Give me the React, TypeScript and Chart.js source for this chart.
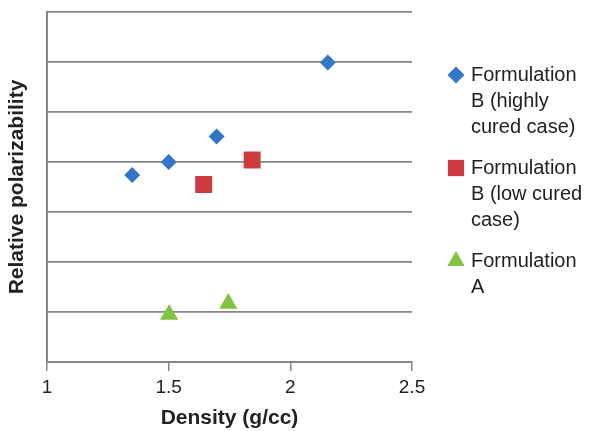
import React, { useEffect, useRef } from 'react';
import { Chart, registerables } from 'chart.js';
import { drawPoint } from 'chart.js/helpers';

Chart.register(...registerables);

// ---- data ----
const xTickValues = [1, 1.5, 2, 2.5];
const highlyCuredX = [1.35, 1.5, 1.697, 2.154];
const highlyCuredY = [3.74, 4.0, 4.51, 5.99];
const lowCuredX = [1.644, 1.843];
const lowCuredY = [3.55, 4.04];
const formAX = [1.502, 1.745];
const formAY = [0.95, 1.17];
const legendLabels = [
  ['Formulation', 'B (highly', 'cured case)'],
  ['Formulation', 'B (low cured', 'case)'],
  ['Formulation', 'A'],
];
const xTitle = 'Density (g/cc)';
const yTitle = 'Relative polarizability';

const FONT = "'Liberation Sans', Arial, Helvetica, sans-serif";
const BLUE = '#3476c6';
const RED = '#cf3a3f';
const GREEN = '#82c341';
const GRID = '#868686';

const toPoints = (xs: number[], ys: number[]) => xs.map((x, i) => ({ x, y: ys[i] }));

const wrappedLegend = {
  id: 'wrappedLegend',
  afterDraw(chart: any) {
    const ctx = chart.ctx;
    ctx.save();
    ctx.font = `20px ${FONT}`;
    ctx.textBaseline = 'middle';
    ctx.textAlign = 'left';
    let y = 75;
    const lineH = 26;
    chart.data.datasets.forEach((ds: any, i: number) => {
      const lines = legendLabels[i];
      ctx.fillStyle = ds.backgroundColor;
      ctx.strokeStyle = ds.backgroundColor;
      ctx.lineWidth = 0;
      drawPoint(ctx, { pointStyle: ds.pointStyle, radius: ds.legendRadius, rotation: 0, borderWidth: 0 }, 456, y);
      ctx.fillStyle = '#222';
      lines.forEach((t: string, j: number) => {
        ctx.fillText(t, 471, y + j * lineH);
      });
      y += lines.length * lineH + 15;
    });
    ctx.restore();
  },
};

export default function App() {
  const ref = useRef<HTMLCanvasElement | null>(null);
  useEffect(() => {
    if (!ref.current) return;
    const chart = new Chart(ref.current, {
      type: 'scatter',
      data: {
        datasets: [
          {
            label: legendLabels[0].join(' '),
            data: toPoints(highlyCuredX, highlyCuredY),
            pointStyle: 'rectRot',
            pointRadius: 8,
            backgroundColor: BLUE,
            borderColor: BLUE,
            borderWidth: 0,
            legendRadius: 8.5,
          } as any,
          {
            label: legendLabels[1].join(' '),
            data: toPoints(lowCuredX, lowCuredY),
            pointStyle: 'rect',
            pointRadius: 12,
            backgroundColor: RED,
            borderColor: RED,
            borderWidth: 0,
            legendRadius: 11.5,
          } as any,
          {
            label: legendLabels[2].join(' '),
            data: toPoints(formAX, formAY),
            pointStyle: 'triangle',
            pointRadius: 10.5,
            backgroundColor: GREEN,
            borderColor: GREEN,
            borderWidth: 0,
            legendRadius: 10,
          } as any,
        ],
      },
      options: {
        animation: false,
        responsive: true,
        maintainAspectRatio: false,
        layout: { padding: { top: 11, right: 178, bottom: 0, left: 0 } },
        plugins: {
          legend: { display: false },
          tooltip: { enabled: false },
        },
        scales: {
          x: {
            type: 'linear',
            min: 1,
            max: 2.5,
            afterFit: (s: any) => { s.height = 69; },
            afterBuildTicks: (s: any) => { s.ticks = xTickValues.map((v) => ({ value: v })); },
            ticks: {
              padding: 5,
              color: '#222',
              font: { family: FONT, size: 19 },
              callback: (v: any) => String(v),
            },
            grid: {
              drawOnChartArea: false,
              drawTicks: true,
              tickLength: 9,
              color: GRID,
              lineWidth: 1.5,
            },
            border: { display: true, color: GRID, width: 2 },
            title: {
              display: true,
              text: xTitle,
              color: '#222',
              font: { family: FONT, size: 21, weight: 'bold' },
              padding: { top: 0, bottom: 0 },
            },
          },
          y: {
            type: 'linear',
            min: 0,
            max: 7,
            afterFit: (s: any) => { s.width = 47; },
            ticks: { display: false, stepSize: 1 },
            grid: {
              drawTicks: false,
              color: GRID,
              lineWidth: 1.75,
            },
            border: { display: true, color: GRID, width: 2 },
            title: {
              display: true,
              text: yTitle,
              color: '#222',
              font: { family: FONT, size: 21, weight: 'bold' },
              padding: { top: 5, bottom: 0 },
            },
          },
        },
      },
      plugins: [wrappedLegend],
    });
    return () => chart.destroy();
  }, []);
  return (
    <div style={{ position: 'fixed', left: 0, top: 0, width: 590, height: 431, background: '#fff' }}>
      <canvas ref={ref} />
    </div>
  );
}
